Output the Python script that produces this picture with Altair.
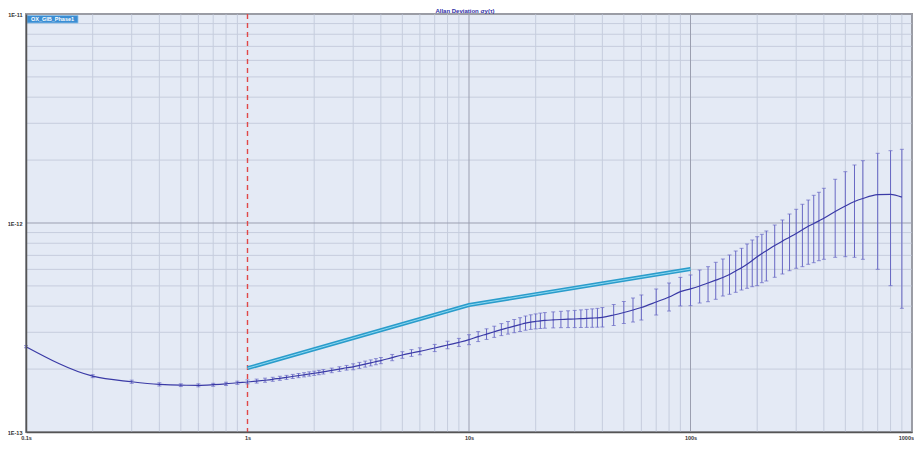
import altair as alt
import pandas as pd

UNIT = 1e-13  # values below are given in units of 1E-13

tau = [0.1, 0.2, 0.3, 0.4, 0.5, 0.6, 0.7, 0.8, 0.9,
       1.0, 1.1, 1.2, 1.3, 1.4, 1.5, 1.6, 1.7, 1.8, 1.9, 2.0, 2.1, 2.2, 2.4, 2.6, 2.8,
       3.0, 3.2, 3.4, 3.6, 3.8, 4.0, 4.5, 5.0, 5.5, 6.0, 7.0, 8.0, 9.0,
       10, 11, 12, 13, 14, 15, 16, 17, 18, 19, 20, 21, 22, 24, 26, 28,
       30, 32, 34, 36, 38, 40, 45, 50, 55, 60, 70, 80, 90,
       100, 110, 120, 130, 140, 150, 160, 170, 180, 190, 200, 210, 220, 240, 260, 280,
       300, 320, 340, 360, 380, 400, 450, 500, 550, 600, 700, 800, 900]

adev = [2.56, 1.85, 1.74, 1.69, 1.675, 1.673, 1.684, 1.70, 1.72,
        1.735, 1.752, 1.769, 1.787, 1.807, 1.825, 1.844, 1.862, 1.878, 1.895, 1.910, 1.926, 1.941,
        1.971, 2.000, 2.029, 2.051, 2.083, 2.113, 2.141, 2.170, 2.196, 2.270, 2.336, 2.388, 2.433,
        2.523, 2.608, 2.684,
        2.765, 2.861, 2.940, 3.016, 3.090, 3.152, 3.211, 3.265, 3.319, 3.356, 3.382, 3.405, 3.420,
        3.439, 3.454, 3.465, 3.473, 3.485, 3.496, 3.508, 3.519, 3.539, 3.629, 3.730, 3.834, 3.942,
        4.188, 4.425, 4.692,
        4.84, 4.997, 5.164, 5.326, 5.482, 5.672, 5.894, 6.113, 6.346, 6.610, 6.900, 7.139, 7.362,
        7.804, 8.192, 8.552, 8.907, 9.279, 9.643, 9.945, 10.24, 10.53,
        11.35, 12.06, 12.67, 13.10, 13.66, 13.72, 13.29]

adev_lo = [2.53, 1.82, 1.71, 1.66, 1.65, 1.645, 1.655, 1.67, 1.69,
           1.70, 1.714, 1.73, 1.748, 1.767, 1.785, 1.803, 1.82, 1.835, 1.851, 1.866, 1.88, 1.894,
           1.922, 1.95, 1.977, 1.985, 2.015, 2.044, 2.071, 2.098, 2.123, 2.193, 2.253, 2.30, 2.342,
           2.425, 2.502, 2.568,
           2.617, 2.708, 2.773, 2.836, 2.892, 2.941, 2.986, 3.026, 3.069, 3.097, 3.114, 3.128, 3.138,
           3.149, 3.156, 3.159, 3.159, 3.163, 3.166, 3.169, 3.172, 3.18, 3.233, 3.304, 3.359, 3.434,
           3.629, 3.792, 4.008,
           4.021, 4.142, 4.202, 4.314, 4.474, 4.559, 4.660, 4.779, 4.871, 4.957, 5.012, 5.181, 5.279,
           5.498, 5.702, 5.912, 6.072, 6.180, 6.346, 6.457, 6.601, 6.704,
           6.853, 6.900, 6.853, 6.704, 6.005, 5.012, 3.908]

adev_hi = [2.59, 1.88, 1.77, 1.72, 1.70, 1.70, 1.71, 1.73, 1.75,
           1.775, 1.791, 1.81, 1.827, 1.848, 1.866, 1.886, 1.905, 1.922, 1.94, 1.955, 1.973, 1.989,
           2.021, 2.052, 2.082, 2.12, 2.153, 2.184, 2.213, 2.244, 2.272, 2.35, 2.422, 2.479, 2.528,
           2.625, 2.718, 2.805,
           2.921, 3.023, 3.117, 3.208, 3.301, 3.378, 3.453, 3.523, 3.589, 3.637, 3.673, 3.706, 3.727,
           3.756, 3.78, 3.801, 3.818, 3.84, 3.861, 3.883, 3.904, 3.939, 4.074, 4.210, 4.377, 4.525,
           4.833, 5.163, 5.493,
           5.640, 5.958, 6.180, 6.486, 6.726, 7.030, 7.345, 7.567, 7.935, 8.293, 8.597, 8.828, 9.157,
           9.781, 10.34, 11.04, 11.63, 12.29, 12.88, 13.57, 14.03, 14.66,
           16.19, 17.60, 18.95, 19.87, 21.55, 22.18, 22.52]

mask_tau = [1, 10, 100]
mask_adev = [2.02, 4.05, 6.02]

marker_tau = [1]

x_ticks = [0.1, 1, 10, 100, 1000]
x_tick_labels = ["0.1s", "1s", "10s", "100s", "1000s"]
y_ticks = [1e-13, 1e-12, 1e-11]
y_tick_labels = ["1E-13", "1E-12", "1E-11"]
x_decades = [0.1, 1, 10, 100]
y_decades = [1e-13, 1e-12]
minor_mult = [2, 3, 4, 5, 6, 7, 8, 9]

title_text = "Allan Deviation \u03c3y(\u03c4)"
legend_label = "OX_GIB_Phase1"

# ---------------------------------------------------------------------------
df = pd.DataFrame({
    "tau": tau,
    "adev": [v * UNIT for v in adev],
    "lo": [v * UNIT for v in adev_lo],
    "hi": [v * UNIT for v in adev_hi],
})
df_mask = pd.DataFrame({"tau": mask_tau, "adev": [v * UNIT for v in mask_adev]})
df_marker = pd.DataFrame({"tau": marker_tau})
df_xminor = pd.DataFrame({"tau": [m * d for d in x_decades for m in minor_mult]})
df_yminor = pd.DataFrame({"adev": [m * d for d in y_decades for m in minor_mult]})
df_xmajor = pd.DataFrame({"tau": [t for t in x_ticks if t not in marker_tau]})
df_ymajor = pd.DataFrame({"adev": y_ticks})
df_one = pd.DataFrame({"k": [0]})

FONT = "Liberation Sans"


def label_expr(values, labels):
    expr = "''"
    for v, lab in reversed(list(zip(values, labels))):
        expr = f"(abs(log(datum.value) - log({v!r})) < 0.1 ? '{lab}' : {expr})"
    return expr


x_scale = alt.Scale(type="log", domain=[x_ticks[0], x_ticks[-1]])
y_scale = alt.Scale(type="log", domain=[y_ticks[0], y_ticks[-1]])

last_x = x_ticks[-1]
x_axis = alt.Axis(values=x_ticks, labelExpr=label_expr(x_ticks, x_tick_labels), title=None,
                  grid=False, ticks=False, domain=True, domainColor="#555555", domainWidth=1.5,
                  labelFont=FONT, labelFontSize=5.5, labelFontWeight="bold", labelColor="#333333",
                  labelPadding=3, labelFlush=False, labelOverlap=False, zindex=1,
                  labelAlign={"condition": {"test": f"datum.value >= {last_x}", "value": "right"},
                              "value": "center"},
                  labelOffset={"condition": {"test": f"datum.value >= {last_x}", "value": 1.5},
                               "value": 0})
y_axis = alt.Axis(values=y_ticks, labelExpr=label_expr(y_ticks, y_tick_labels), title=None,
                  grid=False, ticks=False, domain=True, domainColor="#555555", domainWidth=1.5,
                  labelFont=FONT, labelFontSize=5.5, labelFontWeight="bold", labelColor="#333333",
                  labelPadding=4, labelFlush=False, labelOverlap=False, zindex=1)

X = alt.X("tau:Q", scale=x_scale, axis=x_axis)
Y = alt.Y("adev:Q", scale=y_scale, axis=y_axis)

xminor = alt.Chart(df_xminor).mark_rule(color="#c6cddd", strokeWidth=1).encode(x=X)
yminor = alt.Chart(df_yminor).mark_rule(color="#c6cddd", strokeWidth=1).encode(y=Y)
xmajor = alt.Chart(df_xmajor).mark_rule(color="#9b9fb0", strokeWidth=1).encode(x=X)
ymajor = alt.Chart(df_ymajor).mark_rule(color="#9b9fb0", strokeWidth=1).encode(y=Y)

marker = alt.Chart(df_marker).mark_rule(stroke="#e04848", strokeWidth=1.4, strokeDash=[5, 4],
                                        strokeOpacity=1).encode(x=X)

bars = alt.Chart(df).mark_rule(color="#6868c4", strokeWidth=1).encode(
    x=X, y=alt.Y("lo:Q", scale=y_scale, axis=y_axis), y2="hi:Q")
cap_lo = alt.Chart(df).mark_tick(color="#6868c4", orient="horizontal", size=4, thickness=1).encode(
    x=X, y=alt.Y("lo:Q", scale=y_scale, axis=y_axis))
cap_hi = alt.Chart(df).mark_tick(color="#6868c4", orient="horizontal", size=4, thickness=1).encode(
    x=X, y=alt.Y("hi:Q", scale=y_scale, axis=y_axis))

curve = alt.Chart(df).mark_line(color="#3a3aa6", strokeWidth=1.2, interpolate="monotone").encode(x=X, y=Y)

mask_outer = alt.Chart(df_mask).mark_line(color="#2a9ccb", strokeWidth=4).encode(x=X, y=Y)
mask_inner = alt.Chart(df_mask).mark_line(color="#8fd8f0", strokeWidth=1).encode(x=X, y=Y)

legend_box = alt.Chart(df_one).mark_rect(fill="#3a8dd3", stroke="#8cc0ea", strokeWidth=0.8).encode(
    x=alt.value(1), x2=alt.value(52), y=alt.value(1.5), y2=alt.value(9))
legend_text = alt.Chart(df_one).mark_text(font=FONT, fontSize=5.5, fontWeight="bold", color="white",
                                           align="center", baseline="middle").encode(
    x=alt.value(26.5), y=alt.value(5.4), text=alt.value(legend_label))

title = alt.Chart(df_one).mark_text(font=FONT, fontSize=6, fontWeight="bold", color="#3030a8",
                                     align="center", baseline="alphabetic").encode(
    x=alt.value(439), y=alt.value(-1.5), text=alt.value(title_text))

chart = alt.layer(
    xminor, yminor, xmajor, ymajor, marker, bars, cap_lo, cap_hi, curve,
    mask_outer, mask_inner, legend_box, legend_text, title
).properties(
    width=886, height=418,
    autosize=alt.AutoSizeParams(type="none"),
    padding={"left": 18, "top": 6, "right": 2, "bottom": 14},
    background="white",
).configure_view(
    fill="#e4eaf5", stroke="#9a9a9a", strokeWidth=2
)

chart.save("out.html", embed_options={"renderer": "svg", "actions": False})
